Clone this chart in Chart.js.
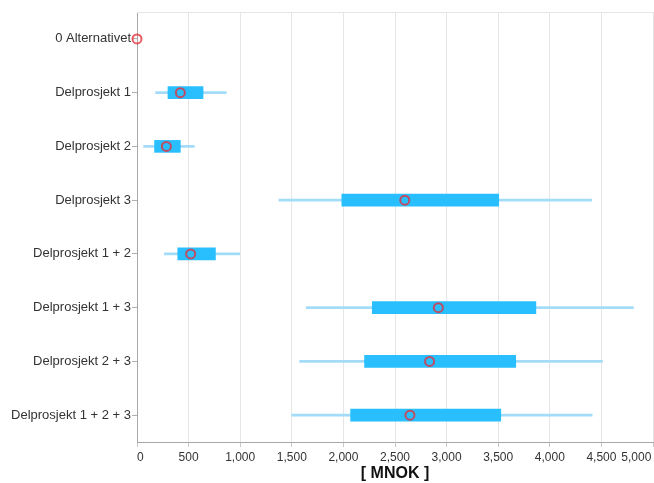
<!DOCTYPE html>
<html>
<head>
<meta charset="utf-8">
<script src="https://cdn.jsdelivr.net/npm/chart.js@4"></script>
<style>
  html, body { margin: 0; padding: 0; background: #fff; }
  #wrap { width: 654px; height: 483px; }
</style>
</head>
<body>
<div id="wrap"><canvas id="costChart"></canvas></div>
<script>
const categories = ['0 Alternativet', 'Delprosjekt 1', 'Delprosjekt 2', 'Delprosjekt 3',
  'Delprosjekt 1 + 2', 'Delprosjekt 1 + 3', 'Delprosjekt 2 + 3', 'Delprosjekt 1 + 2 + 3'];

// MNOK: min, lower quartile, upper quartile, max, expected
const low      = [null, 180, 65, 1375, 265, 1640, 1575, 1500];
const q1       = [null, 300, 170, 1985, 395, 2280, 2205, 2070];
const q3       = [null, 640, 420, 3505, 760, 3865, 3670, 3525];
const high     = [null, 865, 555, 4405, 995, 4810, 4510, 4410];
const expected = [0, 420, 285, 2595, 520, 2920, 2835, 2645];

const xTicks = [0, 500, 1000, 1500, 2000, 2500, 3000, 3500, 4000, 4500, 5000];

const span = (a, b) => a.map((v, i) => (v == null ? null : [v, b[i]]));

const ctx = document.getElementById('costChart').getContext('2d');
new Chart(ctx, {
  type: 'bar',
  data: {
    labels: categories,
    datasets: [
      {
        label: 'Expected',
        type: 'line',
        data: expected.map((v, i) => ({ x: v, y: categories[i] })),
        showLine: false,
        pointStyle: 'circle',
        pointRadius: 4.5,
        pointBorderWidth: 2,
        pointBorderColor: 'rgba(230, 45, 55, 0.78)',
        pointBackgroundColor: 'rgba(0,0,0,0)',
        clip: false,
        order: 0
      },
      {
        label: 'P25-P75',
        data: span(q1, q3),
        backgroundColor: '#29bfff',
        barThickness: 12,
        grouped: false,
        borderSkipped: false,
        order: 1
      },
      {
        label: 'Min-Max',
        data: span(low, high),
        backgroundColor: '#a3dcf8',
        barThickness: 2,
        grouped: false,
        borderSkipped: false,
        order: 2
      }
    ]
  },
  options: {
    indexAxis: 'y',
    responsive: true,
    maintainAspectRatio: false,
    animation: false,
    layout: { autoPadding: false, padding: { top: 12, right: 1, left: 0, bottom: 0 } },
    plugins: {
      legend: { display: false },
      tooltip: { enabled: false }
    },
    scales: {
      y: {
        type: 'category',
        offset: true,
        grid: { display: true, offset: false, drawOnChartArea: false, tickLength: 5, tickColor: '#b0b0b0' },
        border: { color: '#a8a8a8' },
        ticks: {
          color: '#333',
          padding: 1,
          font: { family: 'Liberation Sans, Arial, sans-serif', size: 13 }
        },
        afterFit: (scale) => {
          scale.width = 137;
          scale.paddingTop = 0;
          scale.paddingBottom = 0;
        }
      },
      x: {
        type: 'linear',
        position: 'bottom',
        min: 0,
        max: 5000,
        afterBuildTicks: (scale) => { scale.ticks = xTicks.map((v) => ({ value: v })); },
        grid: { color: '#e6e6e6', tickLength: 5, tickColor: '#c8c8c8' },
        border: { color: '#a8a8a8' },
        ticks: {
          color: '#333',
          padding: 3,
          maxRotation: 0,
          autoSkip: false,
          font: { family: 'Liberation Sans, Arial, sans-serif', size: 12 },
          callback: (v) => {
            const s = v.toLocaleString('en-US');
            if (v === 0) return '  ' + s;
            if (v === 5000) return s + '          ';
            return s;
          }
        },
        title: {
          display: true,
          text: '[ MNOK ]',
          color: '#111',
          padding: { top: 0, bottom: 0 },
          font: { family: 'Liberation Sans, Arial, sans-serif', size: 16, weight: 'bold' }
        },
        afterFit: (scale) => {
          scale.paddingLeft = 0;
          scale.paddingRight = 0;
          scale.height = 41;
        }
      },
      xTop: {
        type: 'linear',
        position: 'top',
        min: 0,
        max: 5000,
        grid: { display: false },
        ticks: { display: false },
        border: { color: '#e6e6e6' },
        afterFit: (scale) => {
          scale.paddingLeft = 0;
          scale.paddingRight = 0;
          scale.height = 0;
        }
      }
    }
  }
});
</script>
</body>
</html>
